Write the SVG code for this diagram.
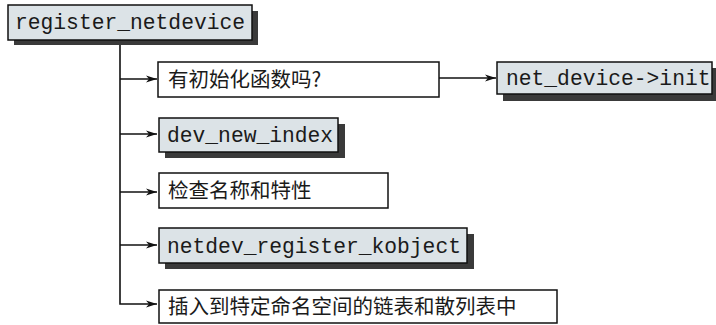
<svg xmlns="http://www.w3.org/2000/svg" width="716" height="325" viewBox="0 0 716 325">
<defs>
<style>
.box{stroke:#111;stroke-width:1.5}
.fn{fill:#dce3e7}
.pl{fill:#fff}
.sh{fill:#3a3a3a}
.mono{font-family:"Liberation Mono","DejaVu Sans Mono",monospace;font-size:21.3px;fill:#1a1a1a}
.cjk{font-family:"Noto Sans CJK SC","Noto Sans",sans-serif;font-size:20.5px;fill:#1a1a1a}
.ln{fill:none;stroke:#111;stroke-width:1.6}
</style>
<marker id="ah" markerWidth="12" markerHeight="8" refX="11" refY="4" orient="auto" markerUnits="userSpaceOnUse">
<path d="M0,0.5 L11,4 L0,7.5 L3,4 Z" fill="#111"/>
</marker>
</defs>
<rect width="716" height="325" fill="#fff"/>
<g id="connectors">
<path class="ln" d="M120,40 V304 H157" marker-end="url(#ah)"/>
<path class="ln" d="M120,79 H157" marker-end="url(#ah)"/>
<path class="ln" d="M120,134 H157" marker-end="url(#ah)"/>
<path class="ln" d="M120,192 H157" marker-end="url(#ah)"/>
<path class="ln" d="M120,245 H157" marker-end="url(#ah)"/>
<path class="ln" d="M439,78 H496" marker-end="url(#ah)"/>
</g>
<g id="register_netdevice">
<rect class="sh" x="14" y="11" width="244" height="34"/>
<rect class="box fn" x="8" y="5" width="244" height="35"/>
<text class="mono" x="15" y="29">register_netdevice</text>
</g>
<g id="has_init">
<rect class="box pl" x="158" y="62" width="281" height="35"/>
<text class="cjk" x="168" y="87">有初始化函数吗?</text>
</g>
<g id="net_device_init">
<rect class="sh" x="503" y="68" width="213" height="33"/>
<rect class="box fn" x="497" y="62" width="215" height="32"/>
<text class="mono" x="506" y="85">net_device-&gt;init</text>
</g>
<g id="dev_new_index">
<rect class="sh" x="165" y="124" width="180" height="34"/>
<rect class="box fn" x="159" y="118" width="179" height="34"/>
<text class="mono" x="167" y="142">dev_new_index</text>
</g>
<g id="check_name">
<rect class="box pl" x="159" y="173" width="229" height="35"/>
<text class="cjk" x="168" y="198">检查名称和特性</text>
</g>
<g id="netdev_register_kobject">
<rect class="sh" x="165" y="234" width="309" height="35"/>
<rect class="box fn" x="159" y="228" width="308" height="35"/>
<text class="mono" x="167" y="253">netdev_register_kobject</text>
</g>
<g id="insert_ns">
<rect class="box pl" x="159" y="290" width="398" height="33"/>
<text class="cjk" x="168" y="314">插入到特定命名空间的链表和散列表中</text>
</g>
</svg>
